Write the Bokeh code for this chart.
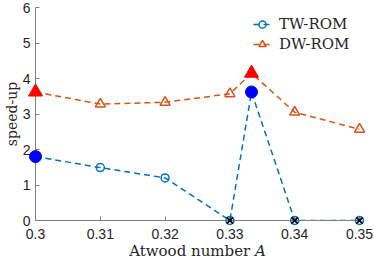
from bokeh.plotting import figure
from bokeh.models import Range1d, Legend, LegendItem, FixedTicker
from bokeh.embed import file_html
from bokeh.resources import INLINE

atwood = [0.30, 0.31, 0.32, 0.33, 1/3, 0.34, 0.35]
tw_rom = [1.80, 1.49, 1.20, 0.0, 3.62, 0.0, 0.0]
dw_rom = [3.62, 3.28, 3.33, 3.57, 4.15, 3.05, 2.57]
filled_idx = [0, 4]
failed_idx = [3, 5, 6]
x_ticks = [0.30, 0.31, 0.32, 0.33, 0.34, 0.35]
x_tick_labels = ["0.3", "0.31", "0.32", "0.33", "0.34", "0.35"]
y_ticks = [0, 1, 2, 3, 4, 5, 6]
x_title = "Atwood number \U0001D434"
y_title = "speed-up"

BLUE = "#0072BD"
ORANGE = "#D95319"
TXT = "#262626"

open_idx = [i for i in range(len(atwood)) if i not in filled_idx]

p = figure(width=374, height=262, output_backend="svg", toolbar_location=None,
           x_range=Range1d(x_ticks[0], x_ticks[-1]), y_range=Range1d(y_ticks[0], y_ticks[-1]),
           min_border_left=34, min_border_right=15, min_border_top=7, min_border_bottom=0)
p.outline_line_color = None
p.xgrid.visible = False
p.ygrid.visible = False

lt = p.line(atwood, tw_rom, line_color=BLUE, line_width=1.5, line_dash="6 4")
mt = p.scatter([atwood[i] for i in open_idx], [tw_rom[i] for i in open_idx],
               marker="circle", size=8, fill_color=None, line_color=BLUE, line_width=1.5,
               level="overlay")
p.scatter([atwood[i] for i in filled_idx], [tw_rom[i] for i in filled_idx],
          marker="circle", size=12, fill_color="#0000FF", line_color="#0000FF", level="overlay")
p.scatter([atwood[i] for i in failed_idx], [tw_rom[i] for i in failed_idx],
          marker="x", size=9, line_color="black", line_width=1.8, level="overlay")

ld = p.line(atwood, dw_rom, line_color=ORANGE, line_width=1.5, line_dash="6 4")
md = p.scatter([atwood[i] for i in open_idx], [dw_rom[i] for i in open_idx],
               marker="triangle", size=10, fill_color=None, line_color=ORANGE, line_width=1.5,
               level="overlay")
p.scatter([atwood[i] for i in filled_idx], [dw_rom[i] for i in filled_idx],
          marker="triangle", size=14, fill_color="#FF0000", line_color="#FF0000", level="overlay")

for ax in (p.xaxis[0], p.yaxis[0]):
    ax.axis_line_color = "#808080"
    ax.major_tick_line_color = "#808080"
    ax.major_tick_in = 4
    ax.major_tick_out = 0
    ax.minor_tick_line_color = None
    ax.major_label_text_font = "Liberation Sans"
    ax.major_label_text_font_size = "14px"
    ax.major_label_text_color = TXT
    ax.major_label_text_line_height = 1.0
    ax.axis_label_text_font = "DejaVu Serif"
    ax.axis_label_text_font_style = "normal"
    ax.axis_label_text_color = TXT
    ax.axis_label_text_line_height = 1.0
    ax.axis_label_standoff = 0

p.xaxis.major_label_standoff = 8
p.yaxis.major_label_standoff = 5
p.xaxis.axis_label_text_font_size = "15px"
p.yaxis.axis_label_text_font_size = "14px"
p.xaxis.ticker = FixedTicker(ticks=x_ticks)
p.yaxis.ticker = FixedTicker(ticks=y_ticks)
p.xaxis.major_label_overrides = dict(zip(x_ticks, x_tick_labels))
p.xaxis.axis_label = x_title
p.yaxis.axis_label = y_title

legend = Legend(items=[LegendItem(label="TW-ROM", renderers=[lt, mt]),
                       LegendItem(label="DW-ROM", renderers=[ld, md])],
                location=(218, 166))
legend.border_line_color = None
legend.background_fill_alpha = 0
legend.label_text_font = "DejaVu Serif"
legend.label_text_font_size = "15px"
legend.label_text_color = TXT
legend.glyph_width = 18
legend.glyph_height = 20
legend.label_height = 20
legend.spacing = 0
legend.padding = 6
legend.margin = 0
legend.label_standoff = 8
p.add_layout(legend)

open("out.html", "w").write(file_html(p, INLINE))
